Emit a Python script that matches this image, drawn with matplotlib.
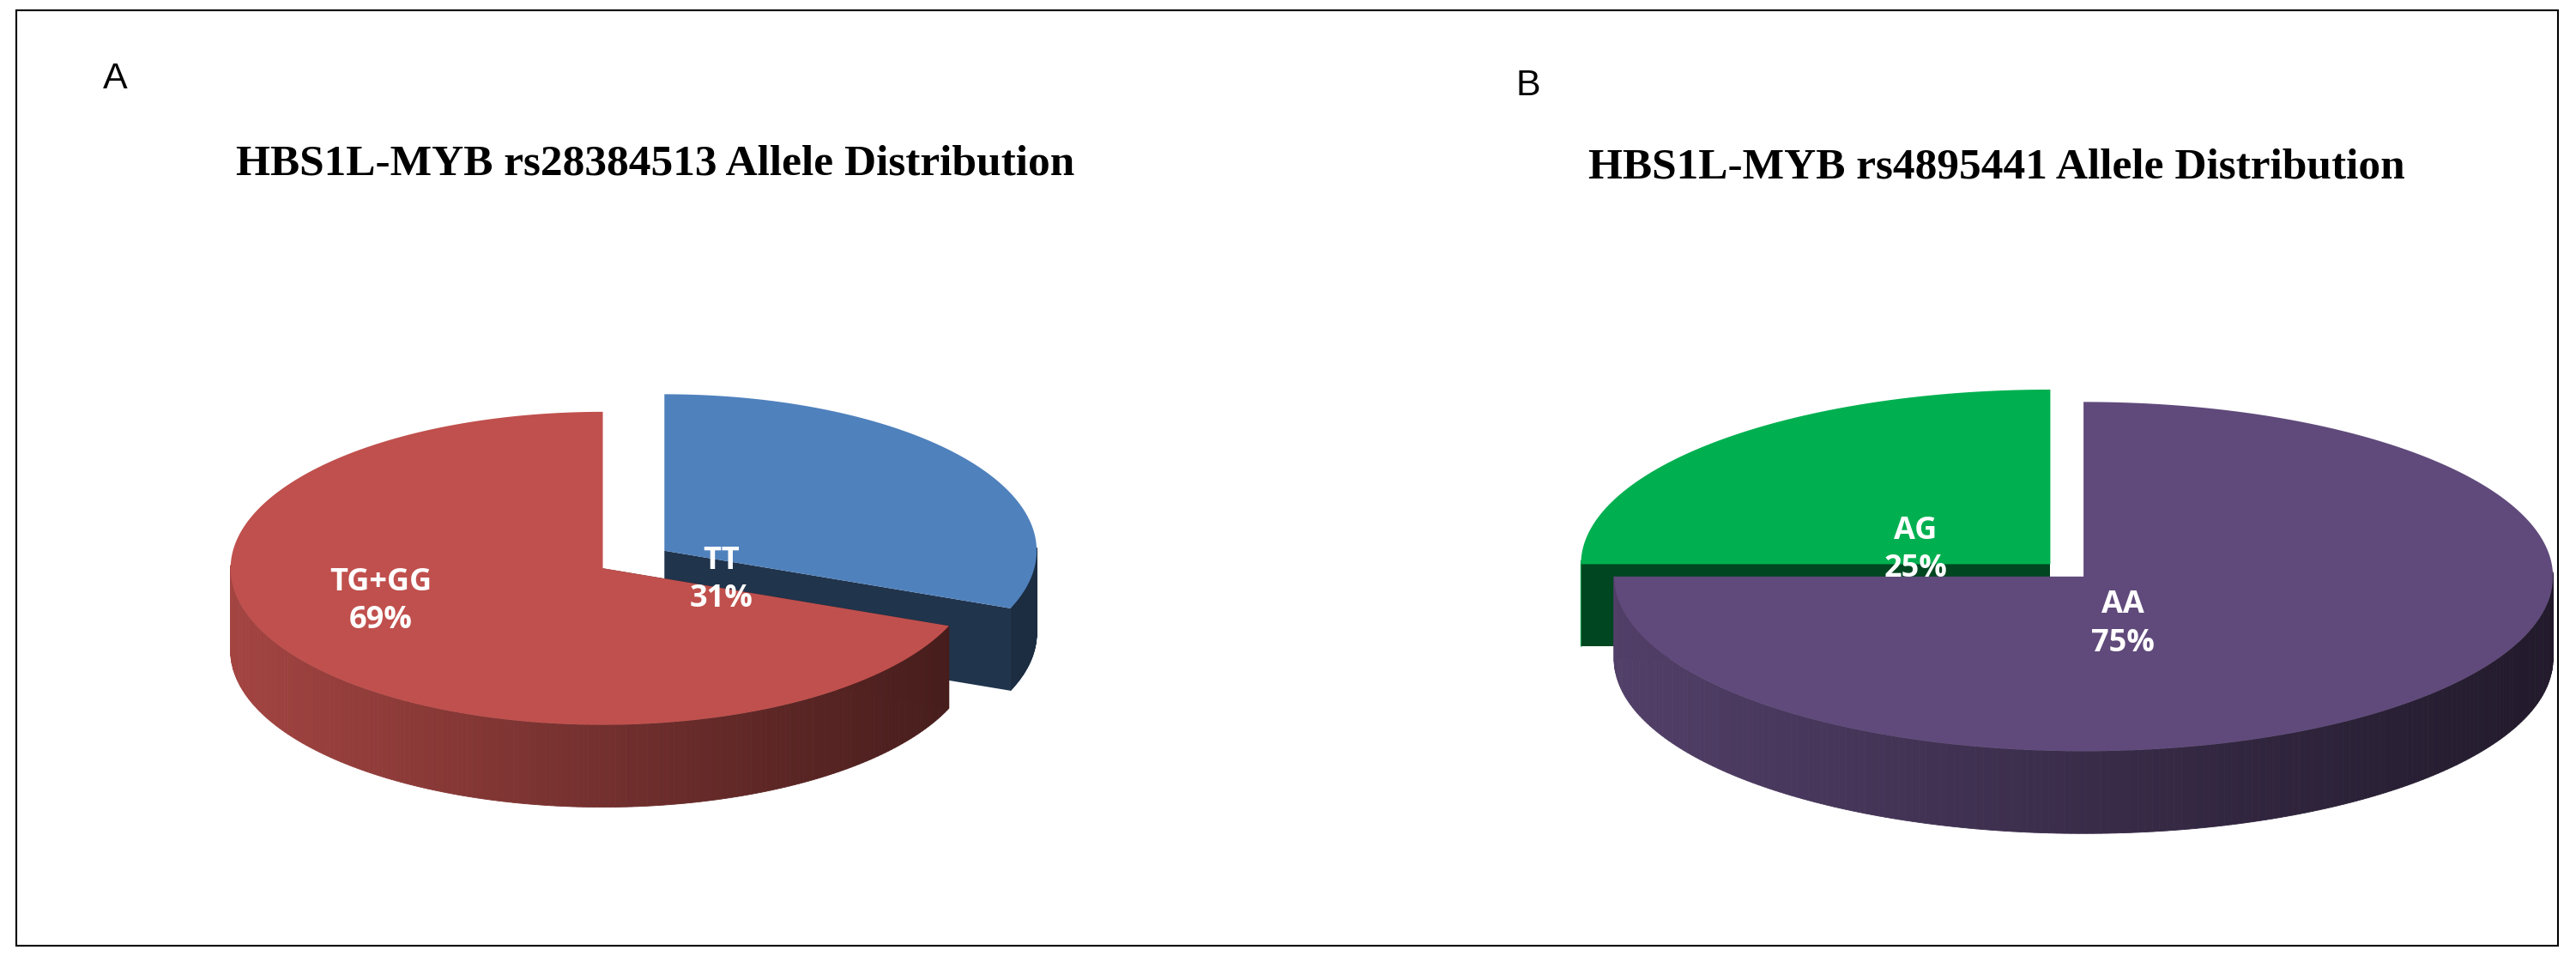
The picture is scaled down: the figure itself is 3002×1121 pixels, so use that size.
import numpy as np
import matplotlib
matplotlib.use("Agg")
import matplotlib.pyplot as plt
from matplotlib.patches import Polygon, Rectangle
from matplotlib.colors import to_rgb

# data
left_title = "HBS1L-MYB rs28384513 Allele Distribution"
left_labels = ["TT", "TG+GG"]
left_values = [31, 69]
left_colors = ["#4F81BD", "#C0504D"]
left_explode = [0.2, 0.0]

right_title = "HBS1L-MYB rs4895441 Allele Distribution"
right_labels = ["AA", "AG"]
right_values = [75, 25]
right_colors = ["#604A7B", "#00B050"]
right_explode = [0.0, 0.1]

W, H = 1564, 584
fig = plt.figure(figsize=(30.02, 11.21), dpi=100)
ax = fig.add_axes([0, 0, 1, 1])
ax.set_xlim(0, W); ax.set_ylim(H, 0); ax.axis("off")
ax.add_patch(Rectangle((10, 6), 1543, 568, fill=False, ec="black", lw=1.5))


def shade(c, f):
    return tuple(np.clip(np.array(to_rgb(c)) * f, 0, 1))


def pt(cx, cy, rx, ry, cw, dy=0):
    a = np.deg2rad(90 - cw)
    return cx + rx * np.cos(a), cy - ry * np.sin(a) + dy


def draw_pie(cx, cy, rx, ry, depth, values, colors, labels, explode, label_pos, order):
    tot = sum(values)
    starts = np.cumsum([0] + list(values))[:-1] / tot * 360
    spans = np.array(values) / tot * 360
    for i in order:
        s, sp = starts[i], spans[i]
        mid = s + sp / 2
        a = np.deg2rad(90 - mid)
        ox, oy = explode[i] * rx * np.cos(a), -explode[i] * ry * np.sin(a)
        x0, y0 = cx + ox, cy + oy
        col = colors[i]
        for e in (s, s + sp):
            px, py = pt(x0, y0, rx, ry, e)
            ax.add_patch(Polygon([(x0, y0), (px, py), (px, py + depth), (x0, y0 + depth)],
                                 closed=True, fc=shade(col, 0.4), ec="none", zorder=1))
        th = np.linspace(s, s + sp, 300)
        for t1, t2 in zip(th[:-1], th[1:]):
            if np.sin(np.deg2rad(90 - (t1 + t2) / 2)) > 0.02:
                continue
            p1 = pt(x0, y0, rx, ry, t1); p2 = pt(x0, y0, rx, ry, t2)
            fx = (p1[0] - (cx - rx)) / (2 * rx)
            f = 0.85 - 0.5 * np.clip(fx, 0, 1)
            ax.add_patch(Polygon([p1, p2, (p2[0], p2[1] + depth), (p1[0], p1[1] + depth)],
                                 closed=True, fc=shade(col, f), ec=shade(col, f), lw=0.6, zorder=1))
        pts = [(x0, y0)] + [pt(x0, y0, rx, ry, t) for t in th]
        ax.add_patch(Polygon(pts, closed=True, fc=col, ec="none", zorder=1))
    for i in order:
        lx, ly = label_pos[i]
        ax.text(lx, ly, f"{labels[i]}\n{values[i]}%", color="white", fontsize=26,
                fontweight="bold", family="Open Sans", ha="center", va="center",
                linespacing=1.3, zorder=3)


draw_pie(366, 345, 226, 95, 50, left_values, left_colors, left_labels, left_explode,
         [(438, 352), (231, 365)], order=[0, 1])
draw_pie(1265, 350, 285, 106, 50, right_values, right_colors, right_labels, right_explode,
         [(1289, 379), (1163, 334)], order=[1, 0])

ax.text(70, 48, "A", fontsize=31, family="Liberation Sans", ha="center", va="center")
ax.text(928, 52, "B", fontsize=31, family="Liberation Sans", ha="center", va="center")
ax.text(398, 100, left_title, fontsize=37, fontweight="bold", family="Liberation Serif",
        ha="center", va="center")
ax.text(1212, 102, right_title, fontsize=37, fontweight="bold", family="Liberation Serif",
        ha="center", va="center")

fig.savefig("out.png", dpi=100)
